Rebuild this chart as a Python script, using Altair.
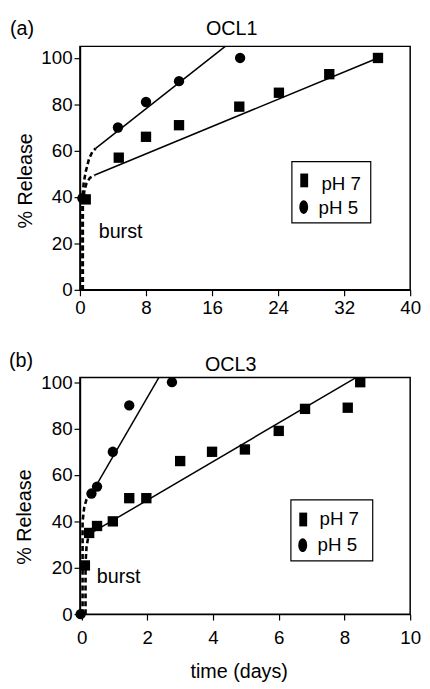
import altair as alt
import pandas as pd

FONT = "Liberation Sans"

# ---------------- Panel (a) OCL1 data ----------------
a_ph7_x = [0.7, 4.7, 8.0, 12.0, 19.3, 24.1, 30.2, 36.1]
a_ph7_y = [39, 57, 66, 71, 79, 85, 93, 100]
a_ph5_x = [0.3, 4.6, 8.0, 12.0, 19.4]
a_ph5_y = [39.5, 70, 81, 90, 100]

a_fit7_x = [1.8, 36.1]
a_fit7_y = [49.5, 100]
a_fit5_x = [1.9, 17.6]
a_fit5_y = [61, 105]
a_burst7_x = [0.35, 0.35, 0.55, 0.8, 1.2, 1.8]
a_burst7_y = [0, 38, 43, 46, 48.3, 49.5]
a_burst5_x = [0.3, 0.3, 0.45, 0.7, 1.1, 1.5, 1.9]
a_burst5_y = [0, 40, 46, 51, 56.5, 59.5, 61]

# ---------------- Panel (b) OCL3 data ----------------
b_ph7_x = [0.1, 0.23, 0.47, 0.95, 1.45, 1.97, 3.0, 3.97, 4.97, 6.0, 6.8, 8.1, 8.48]
b_ph7_y = [21, 35, 38, 40, 50, 50, 66, 70, 71, 79, 88.5, 89, 100]
b_ph5_x = [-0.03, 0.3, 0.47, 0.95, 1.45, 2.75]
b_ph5_y = [0, 52, 55, 70, 90, 100]

b_fit7_x = [0.3, 8.35]
b_fit7_y = [35, 102]
b_fit5_x = [0.3, 2.35]
b_fit5_y = [52, 102]
b_burst7_x = [0.12, 0.12, 0.15, 0.2, 0.3]
b_burst7_y = [0, 22, 29, 33, 35]
b_burst5_x = [0.03, 0.03, 0.08, 0.15, 0.3]
b_burst5_y = [0, 40, 46, 49.5, 52]

series = ["pH 7", "pH 5"]
plot_shapes = ["square", "circle"]
# legend key glyphs: tall rectangle and tall ellipse (unit-square paths)
key_shapes = ["M-0.57,-1H0.57V1H-0.57Z",
              "M0,-1A0.64,1 0 1,1 0,1A0.64,1 0 1,1 0,-1Z"]


def pts_df(x7, y7, x5, y5):
    return pd.DataFrame({
        "x": x7 + x5,
        "y": y7 + y5,
        "s": [series[0]] * len(x7) + [series[1]] * len(x5),
    })


def line_df(x7, y7, x5, y5):
    return pd.DataFrame({
        "x": x7 + x5,
        "y": y7 + y5,
        "s": [series[0]] * len(x7) + [series[1]] * len(x5),
        "o": list(range(len(x7))) + list(range(len(x5))),
    })


def txt(t, x, y, align="left", size=20):
    return alt.Chart(pd.DataFrame({"t": [t]})).mark_text(
        font=FONT, fontSize=size, color="black", align=align, baseline="alphabetic").encode(
        text="t:N", x=alt.value(x), y=alt.value(y))


def legend_layers(box, sym_xy, lab_xy):
    layers = [alt.Chart(pd.DataFrame({"k": [0]})).mark_rect(
        fill="white", stroke="black", strokeWidth=1.2).encode(
        x=alt.value(box[0]), x2=alt.value(box[1]), y=alt.value(box[2]), y2=alt.value(box[3]))]
    for i, name in enumerate(series):
        layers.append(alt.Chart(pd.DataFrame({"s": [name]})).mark_point(
            filled=True, color="black", opacity=1, size=196, shape=key_shapes[i]).encode(
            x=alt.value(sym_xy[i][0]), y=alt.value(sym_xy[i][1])))
        layers.append(txt(name, lab_xy[i][0], lab_xy[i][1], size=19))
    return layers


def panel(letter, name, pts, fit, burst, xdom, ydom, xvals, xlab_mod, xticks_major_mod,
          w, h, x_label_pad, y_label_pad, letter_xy, name_xy, burst_xy, ytitle_xy,
          leg_box, leg_sym, leg_lab, xtitle=None, xtitle_xy=None):
    xaxis_kw = dict(
        values=xvals,
        labelExpr=f"datum.value % {xlab_mod} == 0 ? datum.label : ''",
        tickSize={"condition": {"test": f"datum.value % {xticks_major_mod} == 0", "value": 6}, "value": 3},
        labelPadding=x_label_pad, labelFlush=False,
        grid=False,
    )
    if xtitle:
        xaxis_kw.update(title=xtitle, titleX=xtitle_xy[0], titleY=xtitle_xy[1],
                        titleBaseline="alphabetic", titleAlign="center")
    else:
        xaxis_kw.update(title=None)
    x = alt.X("x:Q", scale=alt.Scale(domain=xdom, nice=False, zero=False),
              axis=alt.Axis(**xaxis_kw))
    y = alt.Y("y:Q", scale=alt.Scale(domain=ydom, nice=False, zero=False),
              axis=alt.Axis(values=list(range(0, 101, 10)),
                            labelExpr="datum.value % 20 == 0 ? datum.label : ''",
                            tickSize={"condition": {"test": "datum.value % 20 == 0", "value": 6}, "value": 3},
                            labelPadding=y_label_pad, labelFlush=False, grid=False,
                            title="% Release", titleX=ytitle_xy[0], titleY=ytitle_xy[1],
                            titleAlign="center", titleBaseline="middle"))

    points = alt.Chart(pts).mark_point(filled=True, color="black", opacity=1, size=110).encode(
        x=x, y=y,
        shape=alt.Shape("s:N", scale=alt.Scale(domain=series, range=plot_shapes), legend=None),
    )
    solid = alt.Chart(fit).mark_line(color="black", strokeWidth=1.5).encode(
        x="x:Q", y="y:Q", detail="s:N", order="o:Q")
    dashed = alt.Chart(burst).mark_line(color="black", strokeWidth=2.6, strokeDash=[5, 3]).encode(
        x="x:Q", y="y:Q", detail="s:N", order="o:Q")
    layers = [dashed, solid, points,
              txt("burst", burst_xy[0], burst_xy[1]),
              txt(letter, letter_xy[0], letter_xy[1]),
              txt(name, name_xy[0], name_xy[1], align="center")]
    layers += legend_layers(leg_box, leg_sym, leg_lab)
    return alt.layer(*layers).properties(width=w, height=h)


a_pts = pts_df(a_ph7_x, a_ph7_y, a_ph5_x, a_ph5_y)
a_fit = line_df(a_fit7_x, a_fit7_y, a_fit5_x, a_fit5_y)
a_burst = line_df(a_burst7_x, a_burst7_y, a_burst5_x, a_burst5_y)
b_pts = pts_df(b_ph7_x, b_ph7_y, b_ph5_x, b_ph5_y)
b_fit = line_df(b_fit7_x, b_fit7_y, b_fit5_x, b_fit5_y)
b_burst = line_df(b_burst7_x, b_burst7_y, b_burst5_x, b_burst5_y)

pa = panel("(a)", "OCL1", a_pts, a_fit, a_burst, [0, 40], [0, 105],
           list(range(0, 41, 4)), 8, 8, 335, 247, 3, 2,
           (-71, -12), (154, -12), (19, 194), (-55, 136),
           (215, 295, 117, 179), [(227.5, 136), (227, 163)], [(245, 146), (242, 170)])
pb = panel("(b)", "OCL3", b_pts, b_fit, b_burst, [-0.05, 10], [0, 102],
           [i * 0.5 for i in range(0, 21)], 2, 1, 335, 240, 9, 2,
           (-72, -11), (153, -7), (17, 208), (-56, 141),
           (214, 297, 124, 186), [(226.5, 144), (226, 170)], [(243, 150), (241, 176)],
           xtitle="time (days)", xtitle_xy=(161, 64))

chart = alt.vconcat(pa, pb, spacing=89, bounds="flush").resolve_scale(
    x="independent", y="independent"
).configure(
    font=FONT, padding={"left": 0, "top": 5, "right": 0, "bottom": 0}
).configure_view(
    stroke="black", strokeWidth=1.5
).configure_axis(
    labelFont=FONT, labelFontSize=19, labelColor="black",
    titleFont=FONT, titleFontSize=20, titleFontWeight="normal", titleColor="black",
    domainColor="black", domainWidth=1.5, tickColor="black", tickWidth=1.2,
)

chart.save("out.html", embed_options={"renderer": "svg", "actions": False})
